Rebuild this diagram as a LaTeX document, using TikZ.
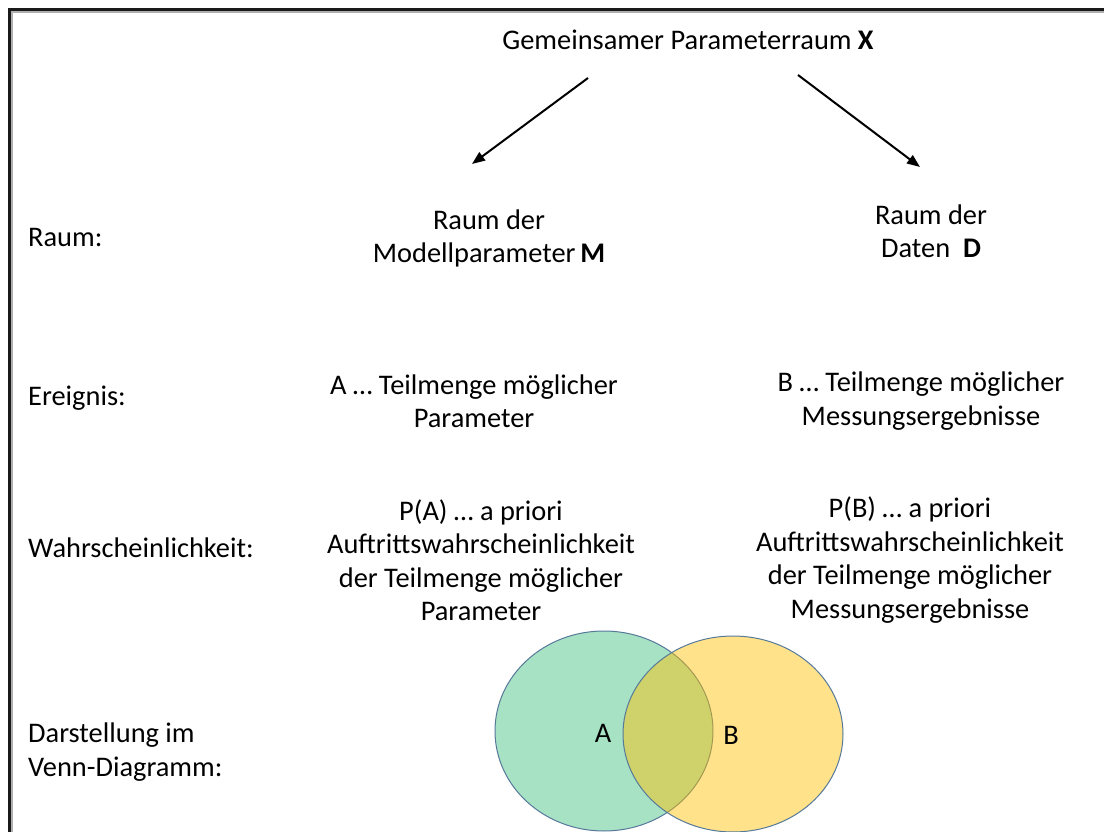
\documentclass[tikz,border=0pt]{standalone}
\usepackage{fontspec}
\setmainfont{Carlito}
\usetikzlibrary{arrows.meta}
\definecolor{frameC}{HTML}{1A1A1A}
\definecolor{shadowC}{HTML}{B0B0B0}
\definecolor{greenC}{HTML}{A8E2C5}
\definecolor{yellowC}{HTML}{FFC000}
\definecolor{edgeC}{HTML}{56799A}
\tikzset{
  txt/.style={inner sep=0pt, align=center, font=\fontsize{28.4}{33.5}\selectfont},
  lbl/.style={txt, anchor=west, align=left},
  arr/.style={line width=2pt, -{Triangle[length=13pt,width=10pt]}},
  venn/.style={draw=edgeC, line width=1pt},
}
\begin{document}
\begin{tikzpicture}[x=1pt,y=-1pt]
\useasboundingbox (0,0) rectangle (1104,832);
% frame (top and left edges)
\draw[shadowC, line width=1.2pt] (11,12) -- (1104,12);
\draw[shadowC, line width=1.2pt] (12,11) -- (12,832);
\draw[frameC, line width=2.6pt] (9.5,832) -- (9.5,9.5) -- (1104,9.5);

% title
\node[txt] (title) at (688,40) {Gemeinsamer Parameterraum \textbf{X}};
\coordinate (aLs) at (588,78);
\coordinate (aRs) at (798,75);

% row labels
\node[lbl] (lraum) at (28,237) {Raum:};
\node[lbl] (lereignis) at (28,398) {Ereignis:};
\node[lbl] (lwahr) at (28,548) {Wahrscheinlichkeit:};
\node[lbl] (ldar) at (28,752) {Darstellung im\\Venn-Diagramm:};

% columns
\node[txt] (rM) at (489,238.5) {Raum der\\Modellparameter\,\textbf{M}};
\node[txt] (rD) at (931,231) {Raum der\\Daten~~\textbf{D}};
\node[txt] (eA) at (474,401) {A \dots\ Teilmenge möglicher\\Parameter};
\node[txt] (eB) at (921,401) {B \dots\ Teilmenge möglicher\\Messungsergebnisse};
\node[txt] (pA) at (481,560) {P(A) \dots\ a priori\\Auftrittswahrscheinlichkeit\\der Teilmenge möglicher\\Parameter};
\node[txt] (pB) at (910,560) {P(B) \dots\ a priori\\Auftrittswahrscheinlichkeit\\der Teilmenge möglicher\\Messungsergebnisse};

\coordinate (aLe) at (472,164);
\coordinate (aRe) at (920,167);
\draw[arr] (aLs) -- (aLe);
\draw[arr] (aRs) -- (aRe);

% Venn diagram
\draw[venn, fill=greenC] (604,731) ellipse [x radius=109, y radius=100];
\draw[venn, fill=yellowC, fill opacity=0.46] (733,734) ellipse [x radius=110, y radius=98];
\node[txt] (vA) at (603,733) {A};
\node[txt] (vB) at (731,735) {B};
\end{tikzpicture}
\end{document}
